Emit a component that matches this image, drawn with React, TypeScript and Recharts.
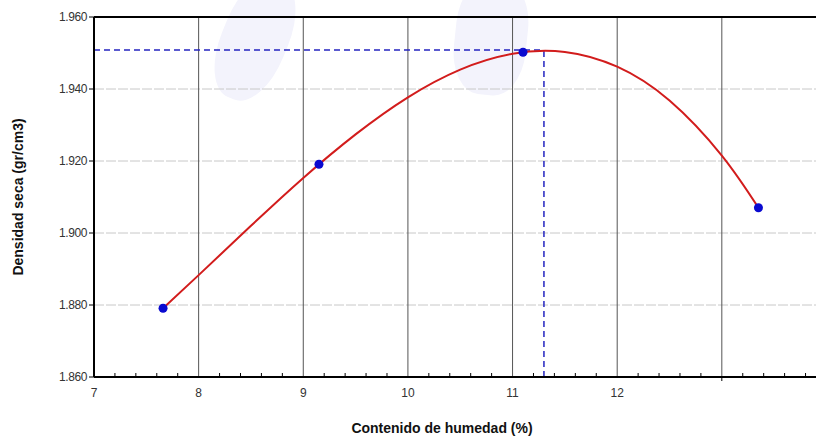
import React from "react";
import {
  ComposedChart,
  Line,
  Scatter,
  XAxis,
  YAxis,
  CartesianGrid,
  ReferenceLine,
} from "recharts";

// ensayo Proctor: puntos medidos
const humedad = [7.66, 9.15, 11.1, 13.35];
const densidad = [1.8791, 1.9191, 1.9502, 1.907];

// curva de ajuste
const curvaX = [7.66, 8.0, 8.5, 9.0, 9.5, 10.0, 10.5, 11.0, 11.5, 12.0, 12.5, 13.0, 13.35];
const curvaY = [1.8791, 1.8883, 1.902, 1.9153, 1.9274, 1.9377, 1.9454, 1.9498, 1.9503, 1.9462, 1.9368, 1.9215, 1.907];

// optimo
const humedadOptima = 11.3;
const densidadMax = 1.9508;

const xMajor = [7, 8, 9, 10, 11, 12, 13];
const xLabels = ["7", "8", "9", "10", "11", "12", ""];
const yTicks = [1.86, 1.88, 1.9, 1.92, 1.94, 1.96];

const xTicks: number[] = [];
for (let i = 70; i <= 138; i += 2) xTicks.push(i / 10);

const puntos = humedad.map((x, i) => ({ x, y: densidad[i] }));
const curva = curvaX.map((x, i) => ({ x, y: curvaY[i] }));

const font = "'Liberation Sans', Arial, sans-serif";

function XTick(props: any) {
  const { x, y, payload } = props;
  const v = payload.value;
  const idx = xMajor.indexOf(v);
  const major = idx >= 0;
  return (
    <g>
      {!major && <line x1={x} y1={y} x2={x} y2={y - 4} stroke="#000" strokeWidth={1} />}
      {idx === 6 && <line x1={x} y1={y} x2={x} y2={y + 4} stroke="#000" strokeWidth={1} />}
      {major && xLabels[idx] !== "" && (
        <text x={x} y={y + 20} textAnchor="middle" fontSize={12} fill="#333" fontFamily={font}>
          {xLabels[idx]}
        </text>
      )}
    </g>
  );
}

export default function App() {
  return (
    <div style={{ position: "absolute", left: 0, top: 0, width: 816, height: 439, background: "#fff", overflow: "hidden" }}>
      <div style={{ position: "absolute", left: 222, top: -25, width: 66, height: 128, borderRadius: "45%", background: "#f3f3fc", transform: "rotate(22deg)" }} />
      <div style={{ position: "absolute", left: 455, top: -20, width: 72, height: 115, borderRadius: "40%", background: "#f3f3fc", transform: "rotate(6deg)" }} />
      <div style={{ position: "absolute", left: 0, top: 0 }}>
        <ComposedChart width={816} height={439} margin={{ top: 17, right: 0, left: 0, bottom: 32 }}>
          <CartesianGrid vertical={false} stroke="#c8c8c8" strokeDasharray="10 2" />
          <XAxis
            type="number"
            dataKey="x"
            domain={[7, 13.9]}
            ticks={xTicks}
            interval={0}
            allowDataOverflow
            tickLine={false}
            tickSize={0}
            tickMargin={0}
            height={30}
            axisLine={{ stroke: "#000", strokeWidth: 2 }}
            tick={<XTick />}
          />
          <YAxis
            type="number"
            dataKey="y"
            domain={[1.86, 1.96]}
            ticks={yTicks}
            interval={0}
            width={94}
            tickSize={5}
            tickLine={{ stroke: "#000" }}
            axisLine={{ stroke: "#000", strokeWidth: 2 }}
            tickFormatter={(v: number) => v.toFixed(3)}
            tick={{ fontSize: 12, fill: "#333", fontFamily: font, letterSpacing: -0.4 }}
          />
          {xMajor.slice(1).map((v) => (
            <ReferenceLine key={v} x={v} stroke="#555" strokeWidth={1} />
          ))}
          <ReferenceLine y={1.96} stroke="#000" strokeWidth={2} />
          <ReferenceLine
            segment={[{ x: 7, y: densidadMax }, { x: humedadOptima, y: densidadMax }]}
            stroke="#2424c0"
            strokeWidth={1.5}
            strokeDasharray="6 4"
          />
          <ReferenceLine
            segment={[{ x: humedadOptima, y: 1.86 }, { x: humedadOptima, y: densidadMax }]}
            stroke="#2424c0"
            strokeWidth={1.5}
            strokeDasharray="6 4"
          />
          <Line
            data={curva}
            dataKey="y"
            type="natural"
            stroke="#d21c1c"
            strokeWidth={2}
            dot={false}
            activeDot={false}
            isAnimationActive={false}
          />
          <Scatter
            data={puntos}
            dataKey="y"
            fill="#0a0ad0"
            isAnimationActive={false}
            shape={(p: any) => <circle cx={p.cx} cy={p.cy} r={4.5} fill="#0a0ad0" />}
          />
        </ComposedChart>
      </div>
      <div
        style={{
          position: "absolute",
          left: 18,
          top: 197,
          transform: "translate(-50%, -50%) rotate(-90deg)",
          whiteSpace: "nowrap",
          fontFamily: font,
          fontWeight: "bold",
          fontSize: 14,
          color: "#111",
        }}
      >
        Densidad seca (gr/cm3)
      </div>
      <div
        style={{
          position: "absolute",
          left: 442,
          top: 428,
          transform: "translate(-50%, -50%)",
          whiteSpace: "nowrap",
          fontFamily: font,
          fontWeight: "bold",
          fontSize: 14,
          color: "#111",
        }}
      >
        Contenido de humedad (%)
      </div>
    </div>
  );
}
